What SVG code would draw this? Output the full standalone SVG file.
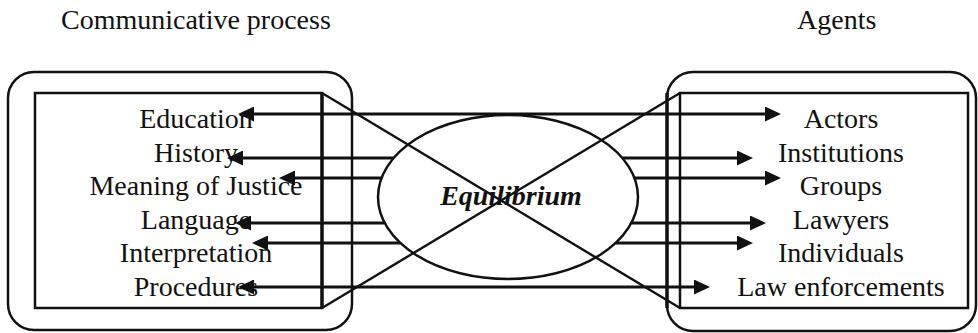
<svg xmlns="http://www.w3.org/2000/svg" width="978" height="333" viewBox="0 0 978 333">
  <style>
    text { font-family: "Liberation Serif", "Times New Roman", serif; font-size: 28px; fill: #111; }
    .lbl { text-anchor: middle; }
    .eq { font-weight: bold; font-style: italic; text-anchor: middle; }
    .frame { fill: none; stroke: #111; stroke-width: 2.5; }
    .inner { fill: none; stroke: #111; stroke-width: 2.5; }
    .edge { fill: none; stroke: #111; stroke-width: 3.4; }
    .arrow { fill: none; stroke: #111; stroke-width: 3.2; }
    .diag { fill: none; stroke: #111; stroke-width: 2.4; }
  </style>
  <defs>
    <marker id="head" markerUnits="userSpaceOnUse" viewBox="0 0 16 15" markerWidth="16" markerHeight="15" refX="10" refY="7.5" orient="auto-start-reverse">
      <path d="M0,0 L16,7.5 L0,15 z" fill="#111"/>
    </marker>
  </defs>

  <rect width="978" height="333" fill="#fff"/>

  <!-- column headings -->
  <g id="heading-process">
    <text x="61" y="29">Communicative process</text>
  </g>
  <g id="heading-agents">
    <text x="797" y="29">Agents</text>
  </g>

  <!-- communicative process box -->
  <g id="process-box">
    <rect class="frame" x="8" y="72" width="344" height="258" rx="26" ry="26"/>
    <rect class="inner" x="35" y="93" width="287" height="215"/>
    <line class="edge" x1="322" y1="93" x2="322" y2="308"/>
    <text class="lbl" x="196" y="128">Education</text>
    <text class="lbl" x="196" y="161.5">History</text>
    <text class="lbl" x="196" y="195">Meaning of Justice</text>
    <text class="lbl" x="196" y="228.5">Language</text>
    <text class="lbl" x="196" y="262">Interpretation</text>
    <text class="lbl" x="196" y="295.5">Procedures</text>
  </g>

  <!-- agents box -->
  <g id="agents-box">
    <rect class="frame" x="667" y="72" width="309" height="259" rx="26" ry="26"/>
    <line class="edge" x1="667" y1="93" x2="667" y2="308"/>
    <rect class="inner" x="680" y="93" width="288" height="215"/>
    <text class="lbl" x="841" y="128">Actors</text>
    <text class="lbl" x="841" y="161.5">Institutions</text>
    <text class="lbl" x="841" y="195">Groups</text>
    <text class="lbl" x="841" y="228.5">Lawyers</text>
    <text class="lbl" x="841" y="262">Individuals</text>
    <text class="lbl" x="841" y="295.5">Law enforcements</text>
  </g>

  <!-- central node -->
  <g id="equilibrium">
    <ellipse cx="508" cy="197" rx="130" ry="82" fill="none" stroke="#111" stroke-width="2.5"/>
    <text class="eq" x="511" y="205">Equilibrium</text>
  </g>

  <!-- connectors -->
  <g id="connectors">
    <!-- Education / Actors -->
    <line class="arrow" x1="244" y1="114" x2="775" y2="114" marker-start="url(#head)" marker-end="url(#head)"/>
    <!-- History / Institutions -->
    <line class="arrow" x1="394" y1="158" x2="233" y2="158" marker-end="url(#head)"/>
    <line class="arrow" x1="622" y1="158" x2="747" y2="158" marker-end="url(#head)"/>
    <!-- Meaning of Justice / Groups -->
    <line class="arrow" x1="381.5" y1="178" x2="285" y2="178" marker-end="url(#head)"/>
    <line class="arrow" x1="634.5" y1="178" x2="775" y2="178" marker-end="url(#head)"/>
    <!-- Language / Lawyers -->
    <line class="arrow" x1="384.7" y1="223" x2="241" y2="223" marker-end="url(#head)"/>
    <line class="arrow" x1="631.3" y1="223" x2="760" y2="223" marker-end="url(#head)"/>
    <!-- Interpretation / Individuals -->
    <line class="arrow" x1="400" y1="243" x2="258" y2="243" marker-end="url(#head)"/>
    <line class="arrow" x1="616" y1="243" x2="747" y2="243" marker-end="url(#head)"/>
    <!-- Procedures / Law enforcements -->
    <line class="arrow" x1="244" y1="287" x2="704" y2="287" marker-start="url(#head)" marker-end="url(#head)"/>
    <!-- crossing diagonals -->
    <line class="diag" x1="322" y1="93" x2="680" y2="308"/>
    <line class="diag" x1="322" y1="308" x2="680" y2="93"/>
  </g>
</svg>
